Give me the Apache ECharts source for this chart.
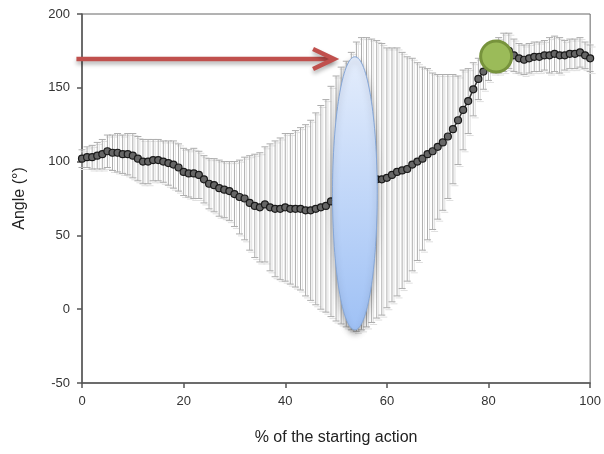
<!DOCTYPE html>
<html>
<head>
<meta charset="utf-8">
<script src="https://cdn.jsdelivr.net/npm/echarts@6/dist/echarts.min.js"></script>
<style>
html,body{margin:0;padding:0;background:#fff;}
#chart{width:604px;height:454px;}
</style>
</head>
<body>
<div id="chart"></div>
<script>
// ---- data ----
const pctAction = [0,1,2,3,4,5,6,7,8,9,10,11,12,13,14,15,16,17,18,19,20,21,22,23,24,25,26,27,28,29,30,31,32,33,34,35,36,37,38,39,40,41,42,43,44,45,46,47,48,49,50,51,52,53,54,55,56,57,58,59,60,61,62,63,64,65,66,67,68,69,70,71,72,73,74,75,76,77,78,79,80,81,82,83,84,85,86,87,88,89,90,91,92,93,94,95,96,97,98,99,100];
const meanAngle = [102,103,103,104,105,107,106,106,105,105,104,102,100,100,101,101,100,99,98,96,93,92,92,91,88,85,84,82,81,80,78,76,75,72,70,69,71,69,68,68,69,68,68,68,67,67,68,69,70,73,75,77,78,80,83,85,86,87,88,88,89,91,93,94,95,98,100,102,105,107,110,113,117,122,128,135,141,149,156,161,166,170,172,174,175,172,170,169,170,171,171,172,172,173,172,172,173,173,174,172,170];
const sdAngle = [6,7,8,9,10,11,12,13,13,14,15,15,15,15,14,14,14,15,16,16,16,16,17,16,16,17,18,19,19,20,22,25,28,32,35,37,39,43,46,48,50,51,53,55,58,61,65,69,72,78,83,87,90,94,98,99,98,96,94,92,88,86,84,80,76,72,67,62,58,53,49,46,42,37,30,27,22,18,14,12,11,10,12,13,12,11,10,10,10,10,10,10,12,12,12,10,10,10,10,9,9];
const xTicks = [0,20,40,60,80,100];
const yTicks = [-50,0,50,100,150,200];
// annotations (data coordinates)
const ellipseMark = {x: 53.7, halfWidth: 4.4, yLow: -14, yHigh: 171};
const arrowMark = {xFrom: -1.1, xTo: 49.6, y: 169.5};
const circleMark = {x: 81.5, y: 171.2};

const FONT = 'Liberation Sans, Arial, sans-serif';
const chart = echarts.init(document.getElementById('chart'), null, {renderer: 'canvas'});

const errData = pctAction.map((x, k) => [x, meanAngle[k], sdAngle[k]]);
const lineData = pctAction.map((x, k) => [x, meanAngle[k]]);

function renderErr(params, api) {
  const x = api.value(0), m = api.value(1), s = api.value(2);
  const top = api.coord([x, m + s]);
  const bot = api.coord([x, m - s]);
  const cw = 3.5;
  const shadow = {stroke: '#e0e0e0', lineWidth: 1};
  const main = {stroke: '#adadad', lineWidth: 1};
  return {
    type: 'group',
    children: [
      {type: 'line', shape: {x1: top[0] + 2, y1: top[1] + 1, x2: bot[0] + 2, y2: bot[1] + 1}, style: shadow},
      {type: 'line', shape: {x1: top[0] - cw + 2, y1: top[1] + 2, x2: top[0] + cw + 2, y2: top[1] + 2}, style: shadow},
      {type: 'line', shape: {x1: bot[0] - cw + 2, y1: bot[1] + 2, x2: bot[0] + cw + 2, y2: bot[1] + 2}, style: shadow},
      {type: 'line', shape: {x1: top[0], y1: top[1], x2: bot[0], y2: bot[1]}, style: main},
      {type: 'line', shape: {x1: top[0] - cw, y1: top[1], x2: top[0] + cw, y2: top[1]}, style: main},
      {type: 'line', shape: {x1: bot[0] - cw, y1: bot[1], x2: bot[0] + cw, y2: bot[1]}, style: main}
    ]
  };
}

function renderEllipse(params, api) {
  const c = api.coord([ellipseMark.x, (ellipseMark.yLow + ellipseMark.yHigh) / 2]);
  const l = api.coord([ellipseMark.x - ellipseMark.halfWidth, ellipseMark.yLow]);
  const t = api.coord([ellipseMark.x, ellipseMark.yHigh]);
  return {
    type: 'ellipse',
    shape: {cx: c[0], cy: c[1], rx: c[0] - l[0], ry: c[1] - t[1]},
    style: {
      fill: new echarts.graphic.LinearGradient(0, 0, 0, 1, [
        {offset: 0, color: '#e4edfc'},
        {offset: 1, color: '#9fc1f5'}
      ]),
      stroke: '#85a7d9',
      lineWidth: 1,
      shadowBlur: 6,
      shadowOffsetY: 4,
      shadowColor: 'rgba(0,0,0,0.35)'
    }
  };
}

function renderArrow(params, api) {
  const a = api.coord([arrowMark.xFrom, arrowMark.y]);
  const b = api.coord([arrowMark.xTo, arrowMark.y]);
  const st = {
    stroke: '#c0504d', lineWidth: 4.5, lineCap: 'butt', lineJoin: 'miter',
    shadowBlur: 4, shadowOffsetY: 3, shadowColor: 'rgba(0,0,0,0.3)', fill: null
  };
  return {
    type: 'group',
    children: [
      {type: 'line', shape: {x1: a[0], y1: a[1], x2: b[0] - 2, y2: b[1]}, style: st},
      {type: 'polyline', shape: {points: [[b[0] - 21, b[1] - 10], [b[0], b[1]], [b[0] - 21, b[1] + 10]]}, style: st}
    ]
  };
}

function renderCircle(params, api) {
  const c = api.coord([circleMark.x, circleMark.y]);
  return {
    type: 'circle',
    shape: {cx: c[0], cy: c[1], r: 15.5},
    style: {fill: '#9bbb59', stroke: '#77933c', lineWidth: 3}
  };
}

const option = {
  animation: false,
  backgroundColor: '#ffffff',
  grid: {left: 82, right: 12, top: 14, bottom: 71, show: true, borderColor: '#666', borderWidth: 1, backgroundColor: 'transparent'},
  xAxis: {
    type: 'value', min: xTicks[0], max: xTicks[xTicks.length - 1], interval: 20,
    name: '% of the starting action', nameLocation: 'middle', nameGap: 47,
    nameTextStyle: {fontFamily: FONT, fontSize: 16, color: '#222'},
    axisLine: {show: true, onZero: false, lineStyle: {color: '#555', width: 1.5}},
    axisTick: {show: true, length: 5, lineStyle: {color: '#555', width: 1.5}},
    axisLabel: {fontFamily: FONT, fontSize: 13, color: '#333', margin: 12},
    splitLine: {show: false}
  },
  yAxis: {
    type: 'value', min: yTicks[0], max: yTicks[yTicks.length - 1], interval: 50,
    name: 'Angle (°)', nameLocation: 'middle', nameGap: 54,
    nameTextStyle: {fontFamily: FONT, fontSize: 16, color: '#222'},
    axisLine: {show: true, onZero: false, lineStyle: {color: '#555', width: 1.5}},
    axisTick: {show: true, length: 5, lineStyle: {color: '#555', width: 1.5}},
    axisLabel: {fontFamily: FONT, fontSize: 13, color: '#333', margin: 12},
    splitLine: {show: false}
  },
  series: [
    {type: 'custom', name: 'sd', data: errData, renderItem: renderErr, z: 1, silent: true, clip: false},
    {
      type: 'line', name: 'mean', data: lineData, z: 2,
      symbol: 'circle', symbolSize: 7, showSymbol: true,
      itemStyle: {color: '#666', borderColor: '#1a1a1a', borderWidth: 1.2},
      lineStyle: {color: '#333', width: 1.5}
    },
    {type: 'custom', name: 'ellipse', data: [[ellipseMark.x, ellipseMark.yHigh]], renderItem: renderEllipse, z: 3, silent: true, clip: false},
    {type: 'custom', name: 'arrow', data: [[arrowMark.xTo, arrowMark.y]], renderItem: renderArrow, z: 4, silent: true, clip: false},
    {type: 'custom', name: 'circle', data: [[circleMark.x, circleMark.y]], renderItem: renderCircle, z: 5, silent: true, clip: false}
  ]
};
chart.setOption(option);
</script>
</body>
</html>
